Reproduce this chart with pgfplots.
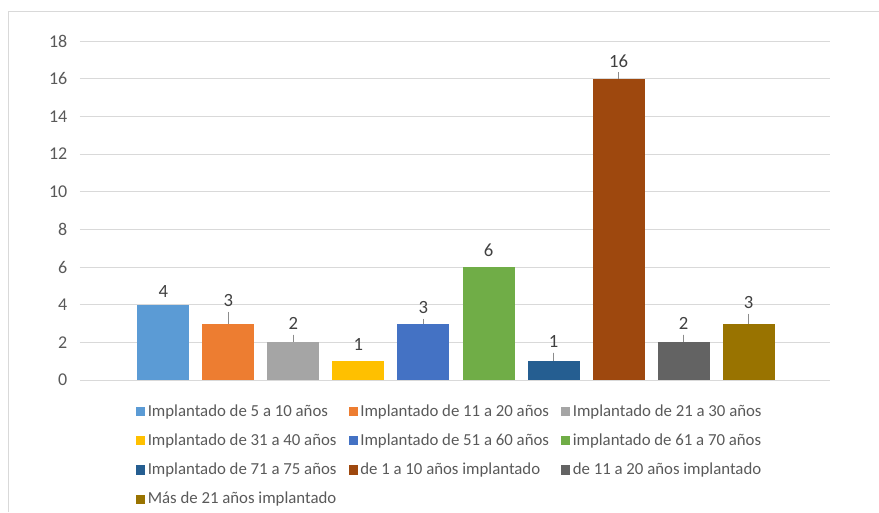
\documentclass[border=0pt]{standalone}
\usepackage{pgfplots}
\pgfplotsset{compat=1.18}
\usepackage{fontspec}
\setmainfont{Carlito}
\definecolor{c1}{HTML}{5B9BD5}
\definecolor{c2}{HTML}{ED7D31}
\definecolor{c3}{HTML}{A5A5A5}
\definecolor{c4}{HTML}{FFC000}
\definecolor{c5}{HTML}{4472C4}
\definecolor{c6}{HTML}{70AD47}
\definecolor{c7}{HTML}{255E91}
\definecolor{c8}{HTML}{9E480E}
\definecolor{c9}{HTML}{636363}
\definecolor{c10}{HTML}{997300}
\definecolor{gridc}{HTML}{D9D9D9}
\definecolor{txt}{HTML}{595959}
\pgfplotsset{
  lift/.style={every node near coord/.append style={yshift=#1}},
  lead/.style={every node near coord/.append style={yshift=#1,
     append after command={(\tikzlastnode.south) edge[draw=black!45, line width=0.5pt] ([yshift=-#1]\tikzlastnode.south)}}},
}
\begin{document}
\begin{tikzpicture}[x=0.75pt,y=0.75pt]
\useasboundingbox (0,0) rectangle (879,512);
\draw[gridc, line width=0.75pt] (8,0) -- (8,500) -- (879,500);
\begin{axis}[
  at={(60pt,99pt)}, anchor=south west,
  scale only axis, width=562.5pt, height=254.25pt,
  xmin=-1.28, xmax=10.25, ymin=0, ymax=18,
  ytick={0,2,...,18}, xtick=\empty,
  ymajorgrids, grid style={gridc, line width=0.75pt},
  axis line style={draw=none},
  major tick length=0pt,
  tick label style={font=\fontsize{13.5}{16}\selectfont, text=txt},
  yticklabel style={xshift=-6pt},
  /pgf/number format/assume math mode=true,
  ybar, bar width=39pt, bar shift=0pt,
  nodes near coords,
  every node near coord/.append style={font=\fontsize{14}{16}\selectfont, text=black!75},
  legend columns=3,
  legend cell align=left,
  legend style={at={(0.069,-0.057)}, anchor=north west, draw=none, fill=none,
    font=\fontsize{12.6}{15}\selectfont, text=txt, row sep=7.6pt,
    /tikz/every even column/.append style={column sep=7pt},
    /tikz/every odd column/.append style={column sep=0pt}},
  legend image code/.code={\fill[#1] (0pt,-3.4pt) rectangle (6.8pt,3.4pt);},
]
\addplot[fill=c1, draw=none, lift=2pt] coordinates {(0,4)};
\addplot[fill=c2, draw=none, lead=8.75pt] coordinates {(1,3)};
\addplot[fill=c3, draw=none, lead=5.75pt] coordinates {(2,2)};
\addplot[fill=c4, draw=none, lift=4.25pt] coordinates {(3,1)};
\addplot[fill=c5, draw=none, lead=3.5pt] coordinates {(4,3)};
\addplot[fill=c6, draw=none, lift=4.25pt] coordinates {(5,6)};
\addplot[fill=c7, draw=none, lead=6.5pt] coordinates {(6,1)};
\addplot[fill=c8, draw=none, lead=5pt] coordinates {(7,16)};
\addplot[fill=c9, draw=none, lead=5.75pt] coordinates {(8,2)};
\addplot[fill=c10, draw=none, lead=7.25pt] coordinates {(9,3)};
\legend{Implantado de 5 a 10 años, Implantado de 11 a 20 años, Implantado de 21 a 30 años,
Implantado de 31 a 40 años, Implantado de 51 a 60 años, implantado de 61 a 70 años,
Implantado de 71 a 75 años, de 1 a 10 años implantado, de 11 a 20 años implantado,
Más de 21 años implantado}
\end{axis}
\end{tikzpicture}
\end{document}
